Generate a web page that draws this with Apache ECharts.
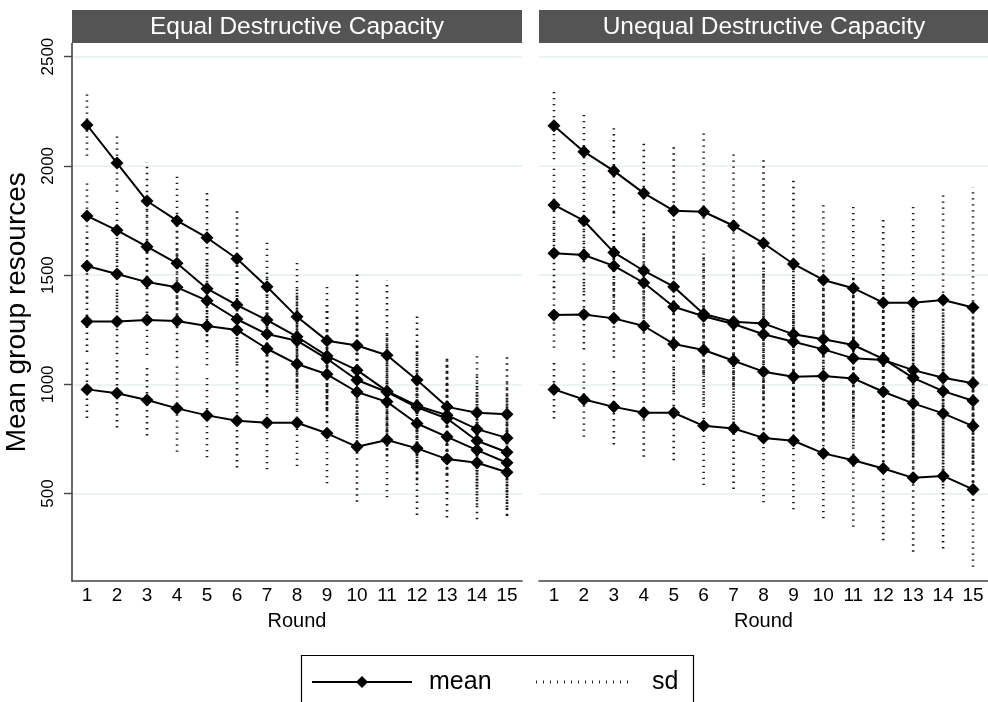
<!DOCTYPE html>
<html>
<head>
<meta charset="utf-8">
<script src="https://cdn.jsdelivr.net/npm/echarts@6/dist/echarts.min.js"></script>
<style>
  html, body { margin: 0; padding: 0; background: #fff; }
  #main { width: 988px; height: 702px; }
</style>
</head>
<body>
<div id="main"></div>
<script>
// rounds and tick values
var rounds = ['1','2','3','4','5','6','7','8','9','10','11','12','13','14','15'];
var yTicks = [500, 1000, 1500, 2000, 2500];
var panelTitles = ['Equal Destructive Capacity', 'Unequal Destructive Capacity'];
var legendNames = ['mean', 'sd'];

// Equal destructive capacity: group means
var eqMean1 = [2187, 2013, 1839, 1749, 1671, 1575, 1447, 1309, 1200, 1178, 1133, 1020, 897, 870, 863];
var eqMean2 = [1771, 1705, 1630, 1554, 1438, 1363, 1294, 1218, 1130, 1065, 969, 902, 859, 795, 755];
var eqMean3 = [1542, 1505, 1468, 1444, 1383, 1298, 1230, 1200, 1117, 1020, 965, 895, 844, 742, 689];
var eqMean4 = [1288, 1288, 1294, 1290, 1267, 1249, 1163, 1093, 1046, 965, 920, 821, 760, 699, 641];
var eqMean5 = [977, 959, 928, 890, 858, 833, 824, 824, 776, 714, 745, 707, 658, 641, 598];
// Equal: standard deviations
var eqSd1 = [141, 132, 179, 217, 214, 229, 217, 254, 255, 341, 344, 293, 233, 269, 267];
var eqSd2 = [160, 150, 170, 190, 200, 210, 220, 230, 240, 260, 270, 280, 270, 260, 250];
var eqSd3 = [150, 160, 170, 180, 190, 200, 210, 220, 230, 240, 250, 260, 260, 250, 250];
var eqSd4 = [140, 150, 160, 170, 180, 190, 200, 210, 220, 240, 250, 260, 260, 250, 240];
var eqSd5 = [131, 156, 162, 199, 192, 213, 213, 198, 229, 251, 262, 305, 267, 258, 201];

// Unequal destructive capacity: group means
var unMean1 = [2184, 2065, 1977, 1875, 1795, 1790, 1726, 1646, 1551, 1478, 1440, 1374, 1374, 1386, 1352];
var unMean2 = [1821, 1749, 1604, 1520, 1447, 1322, 1287, 1279, 1229, 1206, 1180, 1117, 1030, 969, 925];
var unMean3 = [1600, 1592, 1542, 1465, 1355, 1312, 1276, 1229, 1195, 1160, 1119, 1112, 1065, 1030, 1005];
var unMean4 = [1317, 1320, 1302, 1267, 1185, 1157, 1108, 1058, 1035, 1038, 1027, 966, 913, 867, 809];
var unMean5 = [977, 931, 897, 870, 870, 810, 798, 755, 742, 684, 653, 615, 572, 581, 519];
// Unequal: standard deviations
var unSd1 = [154, 168, 195, 247, 293, 362, 339, 396, 395, 351, 376, 397, 447, 489, 550];
var unSd2 = [170, 180, 200, 220, 240, 270, 290, 300, 310, 320, 330, 340, 350, 360, 370];
var unSd3 = [160, 170, 190, 210, 230, 260, 280, 290, 300, 310, 320, 330, 340, 350, 360];
var unSd4 = [150, 160, 180, 200, 220, 250, 270, 290, 300, 300, 310, 320, 330, 330, 340];
var unSd5 = [133, 171, 172, 201, 217, 271, 277, 295, 314, 297, 305, 328, 338, 332, 354];

var panels = [
  { means: [eqMean1, eqMean2, eqMean3, eqMean4, eqMean5], sds: [eqSd1, eqSd2, eqSd3, eqSd4, eqSd5] },
  { means: [unMean1, unMean2, unMean3, unMean4, unMean5], sds: [unSd1, unSd2, unSd3, unSd4, unSd5] }
];

var font = 'Liberation Sans, Arial, Helvetica, sans-serif';
var gridTop = 43.5, gridH = 537.5;
var gridLefts = [72, 539];

var chart = echarts.init(document.getElementById('main'));

function renderSd(params, api) {
  var x = api.value(0), m = api.value(1), s = api.value(2);
  var lo = api.coord([x, m - s]);
  var hi = api.coord([x, m + s]);
  return {
    type: 'line',
    shape: { x1: lo[0], y1: lo[1], x2: hi[0], y2: hi[1] },
    style: { stroke: '#1a1a1a', lineWidth: 2.6, lineDash: [1.4, 4.6] }
  };
}

var grids = [], xAxes = [], yAxes = [], series = [];
for (var p = 0; p < 2; p++) {
  grids.push({ left: gridLefts[p], top: gridTop, width: 450, height: gridH });
  xAxes.push({
    type: 'category', gridIndex: p, data: rounds, boundaryGap: true,
    axisLine: { lineStyle: { color: '#444', width: 1.6 } },
    axisTick: { show: false },
    axisLabel: { interval: 0, color: '#000', fontSize: 19, fontFamily: font, margin: 5 },
    name: 'Round', nameLocation: 'middle', nameGap: 30,
    nameTextStyle: { color: '#000', fontSize: 20, fontFamily: font }
  });
  yAxes.push({
    type: 'value', gridIndex: p, min: 100, max: 2560,
    axisLine: { show: p === 0, lineStyle: { color: '#444', width: 1.6 } },
    axisTick: { show: p === 0, length: 8, customValues: yTicks, lineStyle: { color: '#444', width: 1.4 } },
    axisLabel: {
      show: p === 0, rotate: 90, customValues: yTicks, color: '#000', fontSize: 17, fontFamily: font, margin: 15,
      formatter: function (v) { return String(v); }
    },
    splitLine: { show: true, lineStyle: { color: '#e7eff2', width: 1.5 } },
    name: p === 0 ? 'Mean group resources' : '',
    nameLocation: 'middle', nameGap: 41, nameRotate: 90,
    nameTextStyle: { color: '#000', fontSize: 28, fontFamily: font }
  });
  for (var k = 0; k < 5; k++) {
    var m = panels[p].means[k], s = panels[p].sds[k];
    var sdData = [];
    for (var i = 0; i < rounds.length; i++) sdData.push([i, m[i], s[i]]);
    series.push({
      name: legendNames[1], type: 'custom', xAxisIndex: p, yAxisIndex: p,
      renderItem: renderSd, data: sdData, encode: { x: 0, y: 1 }, z: 1, silent: true
    });
  }
  for (var k2 = 0; k2 < 5; k2++) {
    series.push({
      name: legendNames[0], type: 'line', xAxisIndex: p, yAxisIndex: p,
      data: panels[p].means[k2], symbol: 'diamond', symbolSize: 13,
      lineStyle: { color: '#000', width: 2 }, itemStyle: { color: '#000' },
      z: 3, silent: true, animation: false
    });
  }
}

// panel strips and legend box
var graphics = [];
for (var q = 0; q < 2; q++) {
  graphics.push({
    type: 'rect', left: gridLefts[q], top: 10,
    shape: { width: 450, height: 33 }, style: { fill: '#545454' }
  });
  graphics.push({
    type: 'text', x: gridLefts[q] + 225, y: 27,
    style: { text: panelTitles[q], fill: '#fff', font: '24.5px ' + font, textAlign: 'center', textVerticalAlign: 'middle' }
  });
}
graphics.push({ type: 'rect', shape: { x: 301.5, y: 655.5, width: 392, height: 60 }, style: { fill: '#fff', stroke: '#000', lineWidth: 1.2 } });
graphics.push({ type: 'line', shape: { x1: 312, y1: 682, x2: 412, y2: 682 }, style: { stroke: '#000', lineWidth: 2 } });
graphics.push({ type: 'polygon', shape: { points: [[362, 676], [368, 682], [362, 688], [356, 682]] }, style: { fill: '#000' } });
graphics.push({ type: 'text', x: 429, y: 682, style: { text: legendNames[0], fill: '#000', font: '25px ' + font, textVerticalAlign: 'middle' } });
graphics.push({ type: 'line', shape: { x1: 536, y1: 682, x2: 634, y2: 682 }, style: { stroke: '#222', lineWidth: 3, lineDash: [1, 6] } });
graphics.push({ type: 'text', x: 652, y: 682, style: { text: legendNames[1], fill: '#000', font: '25px ' + font, textVerticalAlign: 'middle' } });

chart.setOption({
  animation: false,
  backgroundColor: '#fff',
  grid: grids,
  xAxis: xAxes,
  yAxis: yAxes,
  series: series,
  graphic: graphics
});
</script>
</body>
</html>
